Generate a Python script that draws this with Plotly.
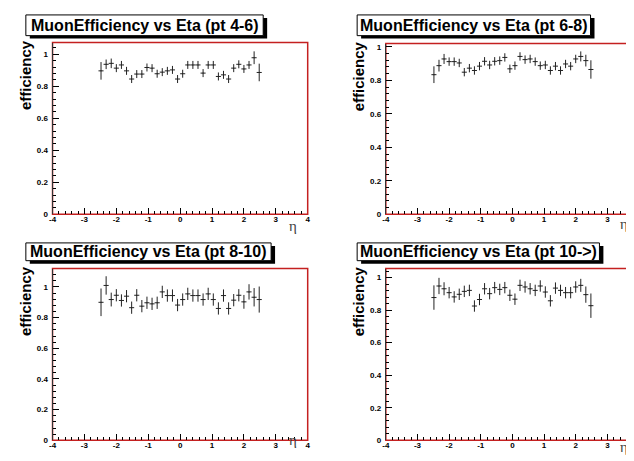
import plotly.graph_objects as go

W, H = 634, 461

eta = [round(-2.48 + 0.16 * i, 2) for i in range(32)]

eff_pt4_6 = [0.897, 0.938, 0.944, 0.914, 0.934, 0.897, 0.846, 0.877, 0.877, 0.918, 0.914, 0.879,
             0.889, 0.897, 0.903, 0.846, 0.879, 0.934, 0.934, 0.934, 0.883, 0.934, 0.934, 0.862,
             0.872, 0.846, 0.914, 0.938, 0.909, 0.934, 0.979, 0.887]
err_pt4_6 = [0.055, 0.03, 0.03, 0.025, 0.025, 0.025, 0.025, 0.025, 0.025, 0.025, 0.025, 0.025,
             0.025, 0.025, 0.025, 0.025, 0.025, 0.025, 0.025, 0.025, 0.025, 0.025, 0.025, 0.025,
             0.025, 0.025, 0.025, 0.025, 0.025, 0.025, 0.04, 0.055]

eff_pt6_8 = [0.834, 0.888, 0.928, 0.912, 0.912, 0.904, 0.849, 0.873, 0.859, 0.885, 0.914, 0.892,
             0.914, 0.918, 0.937, 0.869, 0.888, 0.943, 0.924, 0.928, 0.912, 0.888, 0.892, 0.859,
             0.885, 0.859, 0.898, 0.885, 0.928, 0.943, 0.918, 0.865]
err_pt6_8 = [0.05, 0.035, 0.03, 0.025, 0.025, 0.025, 0.025, 0.025, 0.025, 0.025, 0.025, 0.025,
             0.025, 0.025, 0.025, 0.025, 0.025, 0.025, 0.025, 0.025, 0.025, 0.025, 0.025, 0.025,
             0.025, 0.025, 0.025, 0.025, 0.025, 0.03, 0.035, 0.055]

eff_pt8_10 = [0.90, 1.01, 0.918, 0.946, 0.912, 0.94, 0.865, 0.946, 0.875, 0.897, 0.89, 0.897,
              0.968, 0.944, 0.944, 0.882, 0.918, 0.955, 0.944, 0.944, 0.918, 0.955, 0.918, 0.86,
              0.944, 0.86, 0.914, 0.946, 0.903, 0.968, 0.933, 0.918]
err_pt8_10 = [0.09, 0.06, 0.045, 0.04, 0.04, 0.04, 0.04, 0.04, 0.04, 0.04, 0.04, 0.04,
              0.04, 0.04, 0.04, 0.04, 0.04, 0.04, 0.04, 0.04, 0.04, 0.04, 0.04, 0.04,
              0.04, 0.04, 0.04, 0.04, 0.045, 0.05, 0.06, 0.085]

eff_pt10 = [0.877, 0.948, 0.931, 0.907, 0.881, 0.897, 0.915, 0.921, 0.825, 0.865, 0.931, 0.901,
            0.938, 0.927, 0.938, 0.891, 0.867, 0.952, 0.942, 0.931, 0.921, 0.948, 0.911, 0.857,
            0.935, 0.921, 0.907, 0.907, 0.942, 0.952, 0.895, 0.827]
err_pt10 = [0.075, 0.05, 0.04, 0.035, 0.035, 0.035, 0.035, 0.035, 0.035, 0.035, 0.035, 0.035,
            0.035, 0.035, 0.035, 0.035, 0.035, 0.035, 0.035, 0.035, 0.035, 0.035, 0.035, 0.035,
            0.035, 0.035, 0.035, 0.035, 0.035, 0.04, 0.05, 0.075]

titles = ["MuonEfficiency vs Eta (pt 4-6)", "MuonEfficiency vs Eta (pt 6-8)",
          "MuonEfficiency vs Eta (pt 8-10)", "MuonEfficiency vs Eta (pt 10->)"]
series = [(eff_pt4_6, err_pt4_6), (eff_pt6_8, err_pt6_8),
          (eff_pt8_10, err_pt8_10), (eff_pt10, err_pt10)]
y_tops = [1.074, 1.02, 1.12, 1.055]

# panel geometry in pixels: (left, right, top, bottom)
frames = [(41, 299, 34, 208), (378, 634, 35, 208), (41, 299, 263, 437), (378, 634, 263, 437)]
title_boxes = [(14, 254, 6, 27), (349, 585, 6, 27), (14, 262, 237, 255), (349, 594, 237, 255)]
eff_label_pos = [(13, 67), (350, 68), (13, 296), (350, 296)]
# anchor point of the eta label (glyph box offset compensated)
eta_label_pos = [(284, 220), (619, 218), (284, 437), (619, 444)]


def px(x):
    return x / W


def py(y):
    return 1 - y / H


FONT = "Liberation Sans, Arial, sans-serif"
fig = go.Figure()
shapes = []
annotations = []

for i in range(4):
    sfx = "" if i == 0 else str(i + 1)
    xa, ya = "x" + sfx, "y" + sfx
    eff, err = series[i]
    fig.add_trace(go.Scatter(
        x=eta, y=eff, mode="markers",
        marker=dict(size=1, color="#222"),
        error_y=dict(type="data", array=err, color="#222", thickness=1, width=0),
        error_x=dict(type="constant", value=0.08, color="#222", thickness=1, width=0),
        xaxis=xa, yaxis=ya, showlegend=False, hoverinfo="skip"))
    l, r, t, b = frames[i]
    axis_font = dict(family=FONT, size=8, color="black", weight="bold")
    fig.layout["xaxis" + sfx] = dict(
        domain=[px(l), px(r)], range=[-4, 4], anchor=ya,
        tickmode="array", tickvals=[-4, -3, -2, -1, 0, 1, 2, 3, 4],
        ticktext=["-4", "-3", "-2", "-1", "0", "1", "2", "3", "4"],
        ticks="inside", ticklen=6, tickcolor="black", tickwidth=1,
        minor=dict(dtick=0.2, ticks="inside", ticklen=3, tickcolor="black"),
        showgrid=False, zeroline=False, showline=False,
        tickfont=axis_font, ticklabelstandoff=-1)
    fig.layout["yaxis" + sfx] = dict(
        domain=[py(b), py(t)], range=[0, y_tops[i]], anchor=xa,
        tickmode="array", tickvals=[0, 0.2, 0.4, 0.6, 0.8, 1.0],
        ticktext=["0", "0.2", "0.4", "0.6", "0.8", "1"],
        ticks="inside", ticklen=6, tickcolor="black", tickwidth=1,
        minor=dict(dtick=0.04, ticks="inside", ticklen=3, tickcolor="black"),
        showgrid=False, zeroline=False, showline=True, linecolor="#333", linewidth=1,
        tickfont=axis_font, ticklabelstandoff=2)
    # frame
    shapes.append(dict(type="rect", xref=xa + " domain", yref=ya + " domain",
                       x0=0, x1=1, y0=0, y1=1, line=dict(color="#c42020", width=1.5),
                       layer="below"))
    # title box with shadow
    bl, br, bt, bb = title_boxes[i]
    shapes.append(dict(type="rect", xref="paper", yref="paper",
                       x0=px(bl + 4), x1=px(br + 4), y0=py(bb + 3), y1=py(bt + 3),
                       fillcolor="black", line=dict(width=0), layer="above"))
    shapes.append(dict(type="rect", xref="paper", yref="paper",
                       x0=px(bl), x1=px(br), y0=py(bb), y1=py(bt),
                       fillcolor="white", line=dict(color="black", width=1), layer="above"))
    annotations.append(dict(text=titles[i], xref="paper", yref="paper",
                            x=px((bl + br) / 2), y=py((bt + bb) / 2),
                            xanchor="center", yanchor="middle", showarrow=False,
                            font=dict(family=FONT, size=16, color="black", weight="bold")))
    ex, ey = eff_label_pos[i]
    annotations.append(dict(text="efficiency", xref="paper", yref="paper",
                            x=px(ex), y=py(ey), textangle=-90,
                            xanchor="center", yanchor="middle", showarrow=False,
                            font=dict(family=FONT, size=15, color="black", weight="bold")))
    nx, ny = eta_label_pos[i]
    annotations.append(dict(text="η", xref="paper", yref="paper",
                            x=px(nx), y=py(ny), xanchor="center", yanchor="middle",
                            showarrow=False, borderpad=0,
                            font=dict(family="Liberation Serif, Times New Roman, serif",
                                      size=15, color="#444")))

fig.update_layout(width=W, height=H, margin=dict(l=0, r=0, t=0, b=0),
                  paper_bgcolor="white", plot_bgcolor="white",
                  shapes=shapes, annotations=annotations)

fig.write_html("out.html")
